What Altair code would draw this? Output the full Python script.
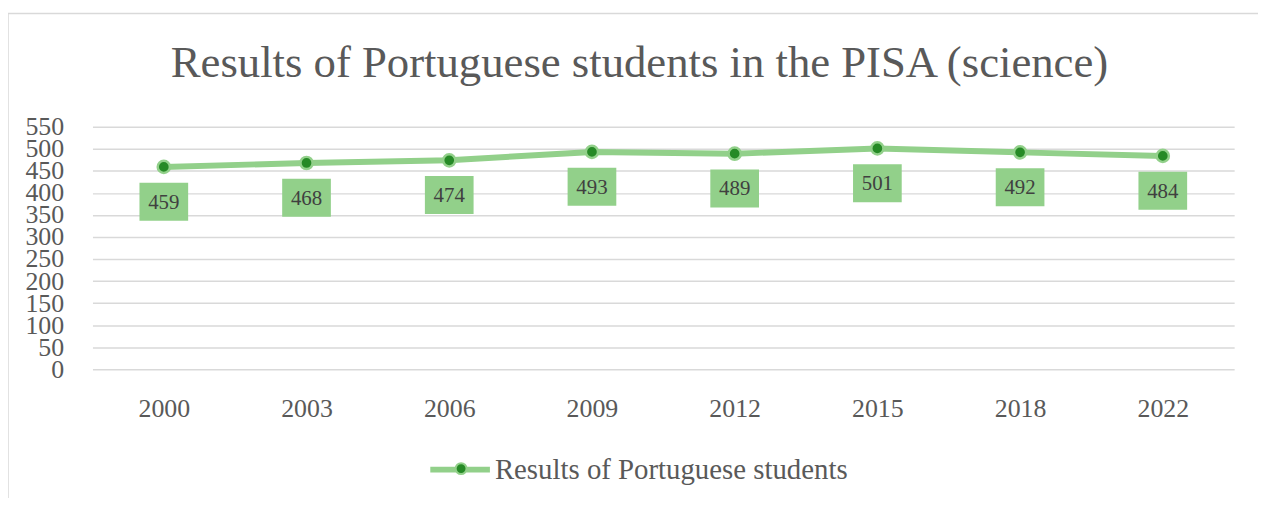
import altair as alt
import pandas as pd

years = ["2000", "2003", "2006", "2009", "2012", "2015", "2018", "2022"]
scores = [459, 468, 474, 493, 489, 501, 492, 484]
series_name = "Results of Portuguese students"
title_text = "Results of Portuguese students in the PISA (science)"

df = pd.DataFrame({"year": years, "score": scores, "series": [series_name] * len(years)})

FONT = "Liberation Serif"
LIGHT = "#92d08a"
DARK = "#268a26"
GRAY = "#595959"

W, H = 1149, 244

x_enc = alt.X("year:N", sort=years, title=None,
              scale=alt.Scale(paddingInner=0, paddingOuter=0, align=0.5),
              axis=alt.Axis(labelAngle=0, labelFont=FONT, labelFontSize=26,
                            labelColor=GRAY, labelPadding=27, ticks=False,
                            domain=False, grid=False))
y_enc = alt.Y("score:Q", title=None,
              scale=alt.Scale(domain=[0, 550], nice=False),
              axis=alt.Axis(values=list(range(0, 551, 50)), labelFont=FONT,
                            labelFontSize=26, labelColor=GRAY, labelPadding=29,
                            labelOverlap=False, ticks=False, domain=False,
                            gridColor="#d9d9d9", gridWidth=1.5,
                            labelBaseline="middle"))

base = alt.Chart(df)

frame = alt.Chart(pd.DataFrame({"a": [0]})).mark_rect(
    fill="white", fillOpacity=0, stroke="#d9d9d9", strokeWidth=1.5
).encode(x=alt.value(-85), x2=alt.value(W + 60), y=alt.value(-114), y2=alt.value(H + 160))

line = base.mark_line(strokeWidth=6).encode(
    x=x_enc, y=y_enc,
    stroke=alt.Stroke("series:N", title=None,
                      scale=alt.Scale(domain=[series_name], range=[LIGHT]),
                      legend=alt.Legend(orient="none", legendX=337, legendY=312,
                                        symbolType="stroke", symbolSize=3600,
                                        symbolStrokeWidth=6, labelFont=FONT,
                                        labelFontSize=29, labelColor=GRAY,
                                        labelOffset=2, labelLimit=600)),
)

points = base.mark_point(filled=True, size=150, strokeWidth=2.5, stroke=LIGHT, opacity=1).encode(
    x=x_enc, y=y_enc,
    fill=alt.Fill("series:N", title=None,
                  scale=alt.Scale(domain=[series_name], range=[DARK]),
                  legend=alt.Legend(orient="none", legendX=358, legendY=331,
                                    symbolType="circle", symbolSize=120,
                                    symbolStrokeColor=LIGHT, symbolStrokeWidth=2,
                                    labelExpr="''", labelFontSize=26, labelFont=FONT)),
)

boxes = base.mark_point(
    filled=True, shape="M-1,-0.78L1,-0.78L1,0.78L-1,0.78Z", size=49 * 49,
    color=LIGHT, opacity=1, strokeWidth=0, yOffset=35
).encode(x=x_enc, y=y_enc)

labels = base.mark_text(font=FONT, fontSize=21, color="#404040", yOffset=36,
                        baseline="middle").encode(
    x=x_enc, y=y_enc, text=alt.Text("score:Q"))

chart = alt.layer(frame, line, points, boxes, labels).properties(
    width=W, height=H,
    title=alt.TitleParams(title_text, font=FONT, fontSize=45, color=GRAY,
                          fontWeight="normal", anchor="middle", dx=-24,
                          offset=-110, baseline="alphabetic"),
    padding={"left": 85, "top": 118, "right": 24, "bottom": 128},
    autosize=alt.AutoSizeParams(type="none"),
).configure_view(stroke=None).resolve_scale(stroke="independent", fill="independent")

chart.save("out.html", embed_options={"renderer": "svg", "actions": False})
